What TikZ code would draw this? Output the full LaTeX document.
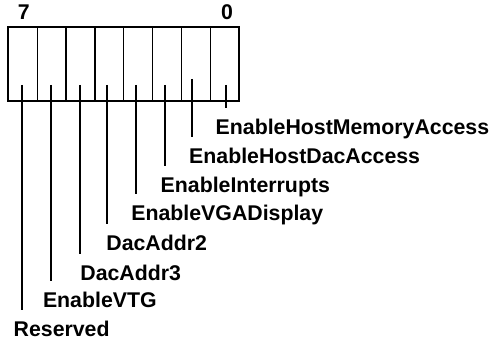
\documentclass[tikz,border=0pt]{standalone}
\usepackage{fontspec}
\setmainfont{Liberation Sans}
\begin{document}
\begin{tikzpicture}[x=1pt,y=-1pt,font=\fontsize{21.3}{25}\selectfont\bfseries,
	lbl/.style={anchor=base west,inner sep=0pt},
	lead/.style={line width=2pt,shorten >=11pt}]
	\useasboundingbox (0,0) rectangle (490,344);
	
	\node[anchor=base,inner sep=0pt] (b7) at (23.8,20) {7};
	\node[anchor=base,inner sep=0pt] (b0) at (227,20) {0};
	
	\draw[line width=2pt] (8.3,27) rectangle (239.3,100.7);
	\foreach \i in {1,...,7}
		\draw[line width=1.3pt] (8.3+\i*28.875,27) -- (8.3+\i*28.875,100.7);
	
	\coordinate (t0) at (226,85);
	\coordinate (t1) at (191.7,79);
	\coordinate (t2) at (164.7,85);
	\coordinate (t3) at (135.7,85);
	\coordinate (t4) at (106.7,85);
	\coordinate (t5) at (79.7,85);
	\coordinate (t6) at (50.7,85);
	\coordinate (t7) at (21.7,85);
	
	\node[lbl] (l0) at (215.5,134.5) {EnableHostMemoryAccess};
	\node[lbl] (l1) at (189,164) {EnableHostDacAccess};
	\node[lbl] (l2) at (160.5,192.5) {EnableInterrupts};
	\node[lbl] (l3) at (131.2,220.5) {EnableVGADisplay};
	\node[lbl] (l4) at (106.2,250.5) {DacAddr2};
	\node[lbl] (l5) at (80.2,280.5) {DacAddr3};
	\node[lbl] (l6) at (42.8,307.5) {EnableVTG};
	\node[lbl] (l7) at (13.5,336.5) {Reserved};
	
	\foreach \i in {0,...,7}
		\draw[lead] (t\i) -- (t\i |- l\i.north);
\end{tikzpicture}
\end{document}
